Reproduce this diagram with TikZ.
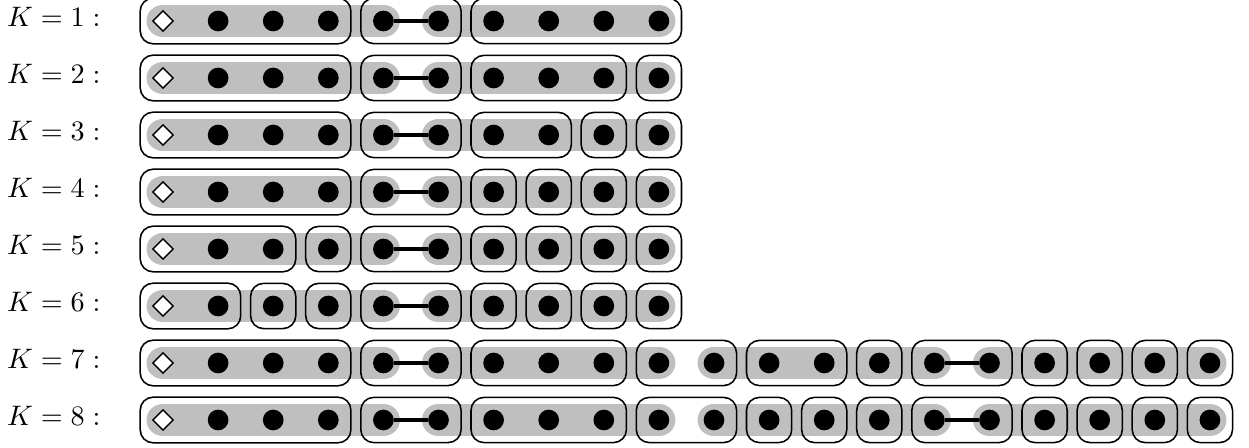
\documentclass[tikz,border=0pt]{standalone}
\usetikzlibrary{shapes.geometric,fit,backgrounds}
\tikzset{
  dot/.style={circle,fill=black,minimum size=7.35pt,inner sep=0pt},
  root/.style={diamond,draw=black,fill=white,line width=0.5pt,minimum size=7.4pt,inner sep=0pt},
  grp/.style={draw,rounded corners=4.6pt,line width=0.55pt,inner sep=4.15pt},
  band/.style={line width=11.7pt,line cap=round,black!25},
  link/.style={line width=1.4pt},
}
\begin{document}
\begin{tikzpicture}[x=0.355pt,y=-0.355pt]
  \useasboundingbox (0,0) rectangle (1249,448);
  % labels and points of each row
  \foreach \k in {1,...,8} {
    \node[anchor=base east,inner sep=0pt] (lab\k) at (101,{26.8+57*(\k-1)}) {$K=\k:$};
    \node[root] (r\k-1) at (163,{21+57*(\k-1)}) {};
  }
  \foreach \k in {1,...,6}
    \foreach \i in {2,...,10}
      \node[dot] (r\k-\i) at ({163+55.1*(\i-1)},{21+57*(\k-1)}) {};
  \foreach \k in {7,8}
    \foreach \i in {2,...,20}
      \node[dot] (r\k-\i) at ({163+55.1*(\i-1)},{21+57*(\k-1)}) {};
  % groups
  \foreach \a/\b in {1/4,5/6,7/10} \node[grp,fit=(r1-\a)(r1-\b)] (g1-\a) {};
  \foreach \a/\b in {1/4,5/6,7/9,10/10} \node[grp,fit=(r2-\a)(r2-\b)] (g2-\a) {};
  \foreach \a/\b in {1/4,5/6,7/8,9/9,10/10} \node[grp,fit=(r3-\a)(r3-\b)] (g3-\a) {};
  \foreach \a/\b in {1/4,5/6,7/7,8/8,9/9,10/10} \node[grp,fit=(r4-\a)(r4-\b)] (g4-\a) {};
  \foreach \a/\b in {1/3,4/4,5/6,7/7,8/8,9/9,10/10} \node[grp,fit=(r5-\a)(r5-\b)] (g5-\a) {};
  \foreach \a/\b in {1/2,3/3,4/4,5/6,7/7,8/8,9/9,10/10} \node[grp,fit=(r6-\a)(r6-\b)] (g6-\a) {};
  \foreach \a/\b in {1/4,5/6,7/9,10/11,12/13,14/14,15/16,17/17,18/18,19/19,20/20}
    \node[grp,fit=(r7-\a)(r7-\b)] (g7-\a) {};
  \foreach \a/\b in {1/4,5/6,7/9,10/11,12/12,13/13,14/14,15/16,17/17,18/18,19/19,20/20}
    \node[grp,fit=(r8-\a)(r8-\b)] (g8-\a) {};
  % links
  \foreach \k in {1,...,8} \draw[link] (r\k-5) -- (r\k-6);
  \foreach \k in {7,8} \draw[link] (r\k-15) -- (r\k-16);
  % gray bands
  \begin{scope}[on background layer]
    \foreach \k in {1,...,8} {
      \draw[band] (r\k-1.center) -- (r\k-5.center);
      \draw[band] (r\k-6.center) -- (r\k-10.center);
    }
    \foreach \k in {7,8} {
      \draw[band] (r\k-11.center) -- (r\k-15.center);
      \draw[band] (r\k-16.center) -- (r\k-20.center);
    }
  \end{scope}
\end{tikzpicture}
\end{document}
